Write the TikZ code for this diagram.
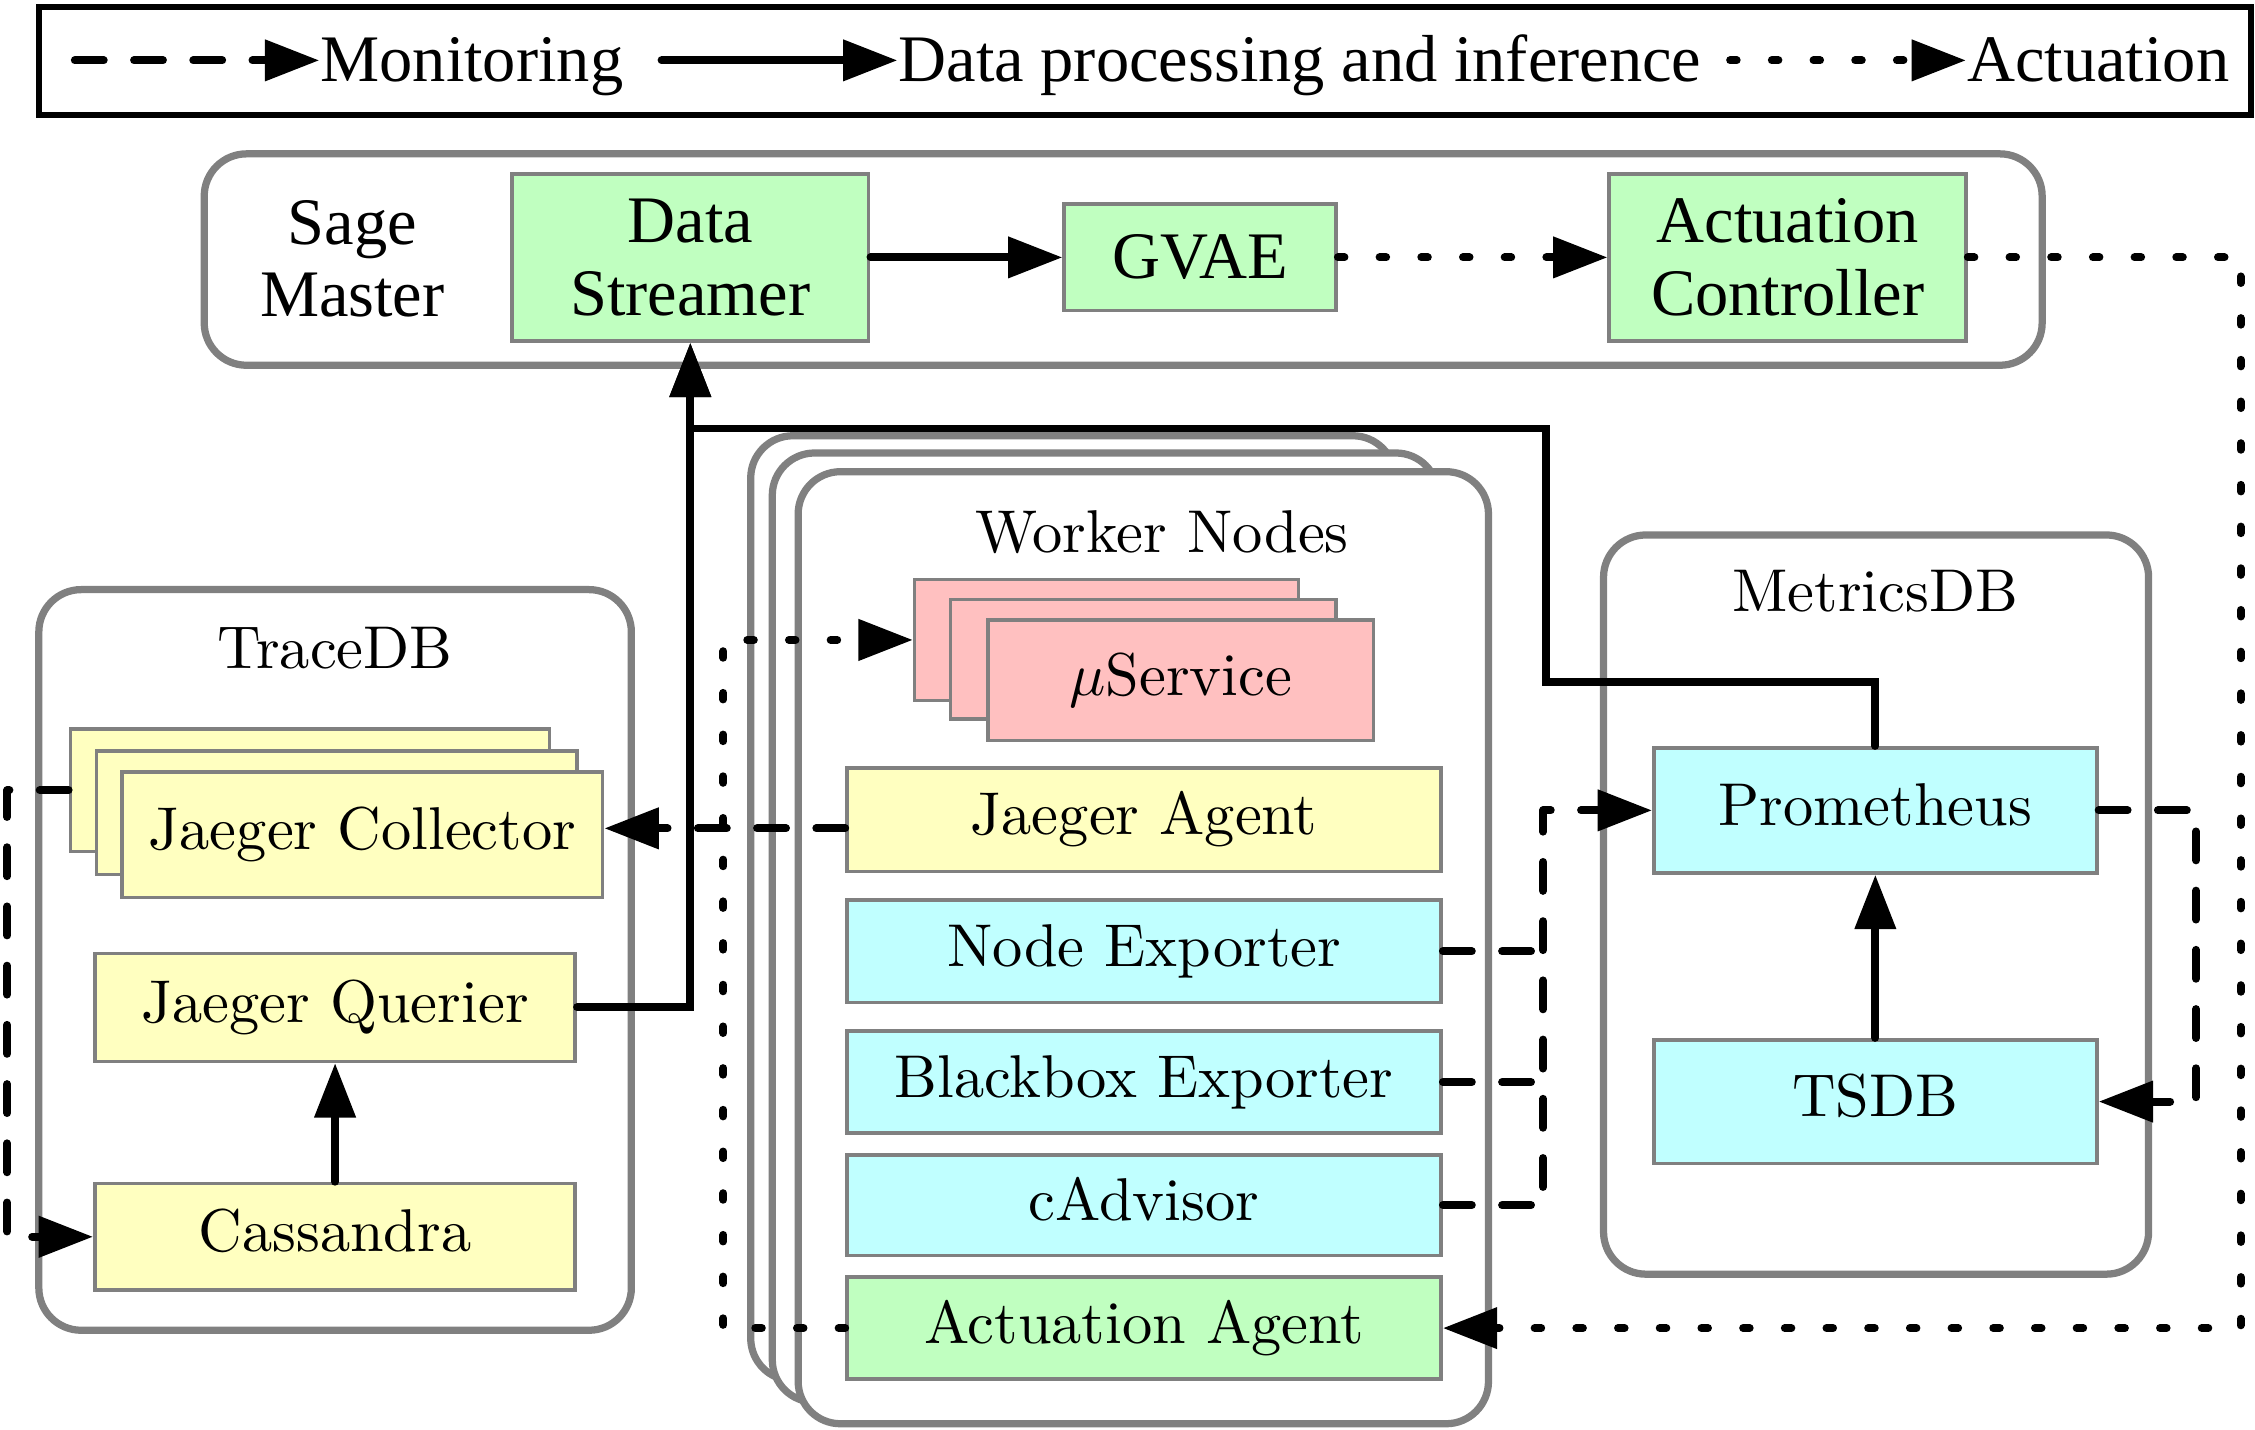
\documentclass[tikz,border=0pt]{standalone}
\usepackage{fontspec}
\newfontfamily\tms{Liberation Serif}
\usetikzlibrary{arrows.meta}
\newdimen\ux \ux=0.238pt
\definecolor{cgreen}{RGB}{192,255,192}
\definecolor{cyel}{RGB}{255,255,192}
\definecolor{ccyan}{RGB}{192,255,255}
\definecolor{cpink}{RGB}{255,192,192}
\definecolor{cgray}{RGB}{128,128,128}
\tikzset{
  sz/.style 2 args={minimum width=#1\ux, minimum height=#2\ux},
  grp/.style={draw=cgray, line width=1.2pt, rounded corners=7pt, fill=white, inner sep=0pt},
  blk/.style={draw=cgray, line width=0.6pt, inner sep=0pt, font=\fontsize{10}{12}\selectfont, text height=7pt, text depth=2pt},
  tblk/.style={draw=cgray, line width=0.6pt, inner sep=0pt, align=center, font=\tms\fontsize{11}{12}\selectfont},
  lab/.style={inner sep=0pt, font=\fontsize{10}{12}\selectfont},
  tlab/.style={inner sep=0pt, align=center, font=\tms\fontsize{11}{12}\selectfont},
  legtxt/.style={anchor=base west, inner sep=0pt, font=\tms\fontsize{11}{13}\selectfont},
  legbox/.style={draw=black, line width=1pt, inner sep=0pt},
  conn/.style={line width=1.3pt, ->, line cap=round},
  dat/.style={conn},
  mon/.style={conn, dash pattern=on 4.8pt off 5pt, line join=round},
  act/.style={conn, dash pattern=on 1.1pt off 5.8pt, line join=round},
}
\begin{document}
\begin{tikzpicture}[x=0.238pt, y=-0.238pt, >={Triangle[length=9pt,width=6.6pt]}]
\useasboundingbox (0,0) rectangle (1568,994);

% legend
\node[legbox, sz={1538}{75}] (legend) at (796,42.5) {};
\node[legtxt] (tm) at (222,57) {Monitoring};
\node[legtxt] (td) at (624,57) {Data processing and inference};
\node[legtxt] (ta) at (1367,57) {Actuation};
\coordinate (lm0) at (52,42);
\coordinate (ld0) at (460,42);
\coordinate (la0) at (1203,42);
\draw[mon] (lm0) -- (lm0 -| tm.west);
\draw[dat] (ld0) -- (ld0 -| td.west);
\draw[act] (la0) -- (la0 -| ta.west);

% Sage Master
\node[grp, sz={1278}{147}] (sage) at (781,180.5) {};
\node[tlab] (sagelab) at (245,180) {Sage\\Master};
\node[tblk, fill=cgreen, sz={248}{116}] (ds) at (480,179) {Data\\Streamer};
\node[tblk, fill=cgreen, sz={189}{74}] (gvae) at (834.5,179) {GVAE};
\node[tblk, fill=cgreen, sz={248}{116}] (ac) at (1243,179) {Actuation\\Controller};

% TraceDB
\node[grp, sz={412}{515}] (trace) at (233,667.5) {};
\node[lab] (tracelab) at (233,451) {TraceDB};
\node[blk, fill=cyel, sz={333}{85}] (jcb) at (215.5,549.5) {};
\node[blk, fill=cyel, sz={334}{86}] (jcm) at (234,565) {};
\node[blk, fill=cyel, sz={334}{87}] (jcf) at (252,580.5) {Jaeger Collector};
\node[blk, fill=cyel, sz={334}{75}] (jq) at (233,700.5) {Jaeger Querier};
\node[blk, fill=cyel, sz={334}{74}] (cass) at (233,860) {Cassandra};

% Worker nodes
\node[grp, sz={448}{657}] (wb) at (746,631.5) {};
\node[grp, sz={463}{660}] (wm) at (768.5,645) {};
\node[grp, sz={480}{662}] (wf) at (795,659) {};
\node[lab] (wlab) at (808,370) {Worker Nodes};
\node[blk, fill=cpink, sz={267}{84}] (msb) at (769.5,445) {};
\node[blk, fill=cpink, sz={268}{83}] (msm) at (795,458.5) {};
\node[blk, fill=cpink, sz={268}{84}] (msf) at (821,473) {$\mu$Service};
\node[blk, fill=cyel, sz={413}{72}] (ja) at (795.5,570) {Jaeger Agent};
\node[blk, fill=ccyan, sz={413}{71}] (ne) at (795.5,661.5) {Node Exporter};
\node[blk, fill=ccyan, sz={413}{71}] (be) at (795.5,752.5) {Blackbox Exporter};
\node[blk, fill=ccyan, sz={413}{70}] (ca) at (795.5,838) {cAdvisor};
\node[blk, fill=cgreen, sz={413}{71}] (aa) at (795.5,923.5) {Actuation Agent};

% MetricsDB
\node[grp, sz={379}{514}] (mdb) at (1304.5,629) {};
\node[lab] (mlab) at (1304,411) {MetricsDB};
\node[blk, fill=ccyan, sz={308}{87}] (prom) at (1304,563.5) {Prometheus};
\node[blk, fill=ccyan, sz={308}{86}] (tsdb) at (1304,766) {TSDB};

% connectors
\draw[dat] (ds.east) -- (gvae.west);
\draw[act] (gvae.east) -- (ac.west);
\coordinate (xr) at (1558,0);
\draw[act] (ac.east) -- (ac.east -| xr) |- (aa.east);
\draw[dat] (jq.east) -| (ds.south);
\coordinate (p1) at (1075,474);
\coordinate (p2) at (1075,298);
\draw[dat] (prom.north) |- (p1) -- (p2) -| (ds.south);
\draw[dat] (cass.north) -- (jq.south);
\draw[dat] (tsdb.north) -- (prom.south);
\coordinate (yja) at (0,576);
\draw[mon] (ja.west |- yja) -- (jcf.east |- yja);
\coordinate (xl) at (5,0);
\draw[mon] (jcb.west) -- (jcb.west -| xl) |- (cass.west);
\coordinate (xd) at (503,0);
\draw[act] (aa.west) -- (aa.west -| xd) |- (msb.west);
\coordinate (xm) at (1073,0);
\draw[mon,-] (ne.east) -- (ne.east -| xm);
\draw[mon,-] (be.east) -- (be.east -| xm);
\draw[mon] (ca.east) -- (ca.east -| xm) |- (prom.west);
\coordinate (xt) at (1527,0);
\draw[mon] (prom.east) -- (prom.east -| xt) |- (tsdb.east);
\end{tikzpicture}
\end{document}
